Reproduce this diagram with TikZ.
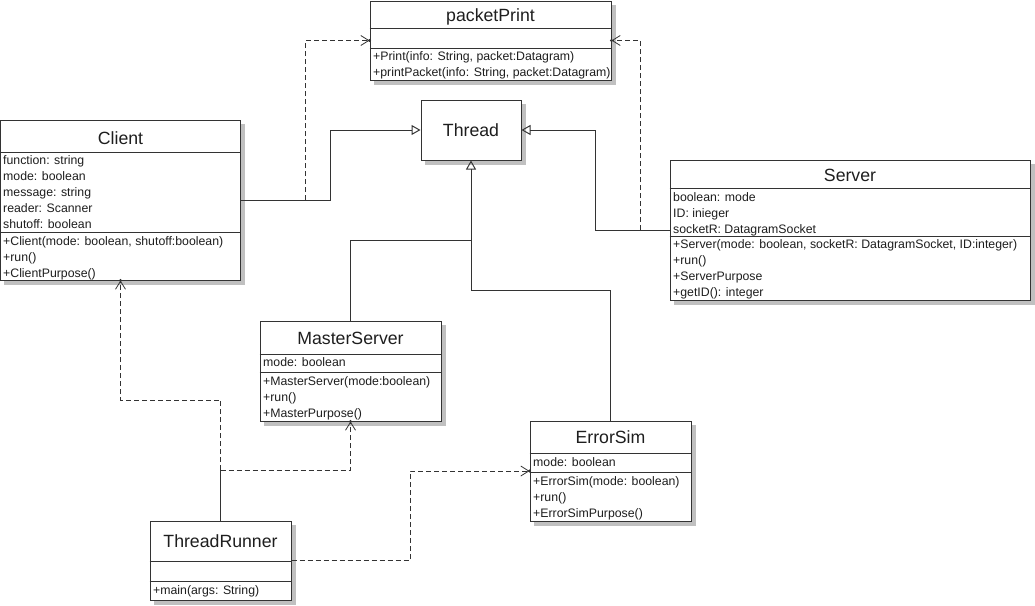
\documentclass[tikz,border=0pt]{standalone}
\usepackage{fontspec}
\setmainfont{Liberation Sans}
\usetikzlibrary{arrows.meta,calc,backgrounds}
\definecolor{linec}{HTML}{333333}
\definecolor{txtc}{HTML}{1E1E1E}
\definecolor{shadc}{HTML}{C0C0C0}
\begin{document}
\begin{tikzpicture}[x=1pt,y=-1pt,
  cbox/.style={draw=linec, line width=1pt, fill=white, inner sep=0pt},
  shad/.style={fill=shadc},
  ttl/.style={anchor=base, font=\fontsize{17.7}{20}\selectfont, text=txtc, inner sep=0pt},
  attr/.style={anchor=base west, font=\fontsize{12.3}{14}\selectfont, text=txtc, inner sep=0pt},
  divl/.style={draw=linec, line width=1pt},
  plainl/.style={draw=linec, line width=1pt},
  inh/.style={draw=linec, line width=1pt, -{Triangle[open,length=9pt,width=10pt]}},
  dep/.style={draw=linec, line width=1pt, dash pattern=on 5pt off 3pt,
    -{Straight Barb[length=8pt,width=10pt,line width=0.8pt]}},
  tipdot/.style={fill=linec}
]
\useasboundingbox (0,0) rectangle (1035,605);

% ---------- packetPrint ----------
\node[cbox, minimum width=241pt, minimum height=79pt] (pp) at (490.5,40.5) {};
\draw[divl] (pp.west |- 0,28) -- (pp.east |- 0,28);
\draw[divl] (pp.west |- 0,48.5) -- (pp.east |- 0,48.5);
\node[ttl] (ppT) at (490.5,21.5) {packetPrint};
\node[attr] (ppM1) at (373,60) {+Print(info: String, packet:Datagram)};
\node[attr] (ppM2) at (373,76) {+printPacket(info: String, packet:Datagram)};

% ---------- Thread ----------
\node[cbox, minimum width=100pt, minimum height=60pt] (thread) at (471,130) {};
\node[ttl] (threadT) at (471,136.5) {Thread};

% ---------- Client ----------
\node[cbox, minimum width=240pt, minimum height=160pt] (client) at (120.5,200) {};
\draw[divl] (client.west |- 0,152) -- (client.east |- 0,152);
\draw[divl] (client.west |- 0,232) -- (client.east |- 0,232);
\node[ttl] (clientT) at (120.5,144) {Client};
\node[attr] (cA1) at (3,164.5) {function: string};
\node[attr] (cA2) at (3,180.5) {mode: boolean};
\node[attr] (cA3) at (3,196.5) {message: string};
\node[attr] (cA4) at (3,212.5) {reader: Scanner};
\node[attr] (cA5) at (3,228.5) {shutoff: boolean};
\node[attr] (cM1) at (3,245) {+Client(mode: boolean, shutoff:boolean)};
\node[attr] (cM2) at (3,261) {+run()};
\node[attr] (cM3) at (3,277) {+ClientPurpose()};

% ---------- Server ----------
\node[cbox, minimum width=360pt, minimum height=140pt] (server) at (850,230) {};
\draw[divl] (server.west |- 0,188) -- (server.east |- 0,188);
\draw[divl] (server.west |- 0,236) -- (server.east |- 0,236);
\node[ttl] (serverT) at (850,181.5) {Server};
\node[attr] (sA1) at (673,201) {boolean: mode};
\node[attr] (sA2) at (673,217) {ID: inieger};
\node[attr] (sA3) at (673,233) {socketR: DatagramSocket};
\node[attr] (sM1) at (673,248.5) {+Server(mode: boolean, socketR: DatagramSocket, ID:integer)};
\node[attr] (sM2) at (673,264.5) {+run()};
\node[attr] (sM3) at (673,280.5) {+ServerPurpose};
\node[attr] (sM4) at (673,296.5) {+getID(): integer};

% ---------- MasterServer ----------
\node[cbox, minimum width=181pt, minimum height=100pt] (ms) at (350.5,371) {};
\draw[divl] (ms.west |- 0,354) -- (ms.east |- 0,354);
\draw[divl] (ms.west |- 0,372) -- (ms.east |- 0,372);
\node[ttl] (msT) at (350.5,344) {MasterServer};
\node[attr] (msA1) at (263,366.5) {mode: boolean};
\node[attr] (msM1) at (263,385) {+MasterServer(mode:boolean)};
\node[attr] (msM2) at (263,401) {+run()};
\node[attr] (msM3) at (263,417) {+MasterPurpose()};

% ---------- ErrorSim ----------
\node[cbox, minimum width=161pt, minimum height=100pt] (es) at (610.5,471) {};
\draw[divl] (es.west |- 0,453) -- (es.east |- 0,453);
\draw[divl] (es.west |- 0,472) -- (es.east |- 0,472);
\node[ttl] (esT) at (610.5,443.5) {ErrorSim};
\node[attr] (esA1) at (533,466.5) {mode: boolean};
\node[attr] (esM1) at (533,485.5) {+ErrorSim(mode: boolean)};
\node[attr] (esM2) at (533,501.5) {+run()};
\node[attr] (esM3) at (533,517.5) {+ErrorSimPurpose()};

% ---------- ThreadRunner ----------
\node[cbox, minimum width=141pt, minimum height=79pt] (tr) at (220.5,560.5) {};
\draw[divl] (tr.west |- 0,561) -- (tr.east |- 0,561);
\draw[divl] (tr.west |- 0,581) -- (tr.east |- 0,581);
\node[ttl] (trT) at (220.5,547) {ThreadRunner};
\node[attr] (trM1) at (153,594.5) {+main(args: String)};

% ---------- shadows ----------
\begin{scope}[on background layer]
  \foreach \n in {pp,thread,client,server,ms,es,tr}{
    \fill[shad] ($(\n.south west)+(4,0)$) rectangle ($(\n.south east)+(4,4)$);
    \fill[shad] ($(\n.north east)+(0,4)$) rectangle ($(\n.south east)+(4,4)$);
  }
\end{scope}

% ---------- connectors ----------
\coordinate (cj) at (305.5,200);
\coordinate (sj) at (640,230);
\coordinate (tj) at (471,240);
\coordinate (ej) at (471,290);
\coordinate (trj) at (220.5,470);

\draw[inh] (client.east) -- (330,200) |- (thread.west);
\draw[dep] (cj) |- (pp.west);
\draw[inh] (server.west) -- (595.5,230) |- (thread.east);
\draw[dep] (sj) |- (pp.east);
\draw[inh] (ms.north) |- (tj) -- (thread.south);
\draw[plainl] (es.north) |- (ej) -- (tj);
\draw[plainl] (tr.north) -- (trj);
\draw[dep] (trj) -- (220.5,400) -| (client.south);
\draw[dep] (trj) -| (ms.south);
\draw[dep] (tr.east) -- (410,560.5) |- (es.west);

\fill[tipdot] (pp.west) circle (1.6pt);
\fill[tipdot] (pp.east) circle (1.6pt);
\fill[tipdot] (client.south) circle (1.6pt);
\fill[tipdot] (ms.south) circle (1.6pt);
\fill[tipdot] (es.west) circle (1.6pt);
\end{tikzpicture}
\end{document}
